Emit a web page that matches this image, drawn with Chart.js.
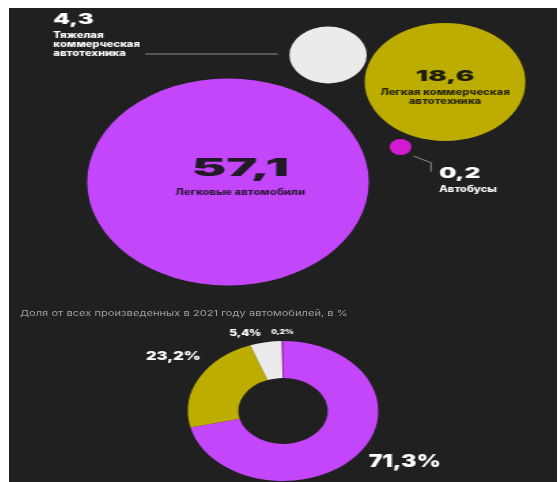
<!DOCTYPE html>
<html lang="ru">
<head>
<meta charset="utf-8">
<title>Производство автомобилей в 2021 году</title>
<script src="https://cdn.jsdelivr.net/npm/chart.js@4.4.1/dist/chart.umd.min.js"></script>
<style>
  html, body { margin: 0; background: #fff; }
  #panel { position: absolute; left: 9px; top: 8px; width: 548px; height: 474px; background: #202020; overflow: hidden; }
  /* вся инфографика растянута по горизонтали */
  #stretch { position: absolute; left: 0; top: 0; width: 403px; height: 474px; transform: scaleX(1.36); transform-origin: 0 0; }
  #bubbles { position: absolute; left: 0; top: 0; }
  #share { position: absolute; left: 0; top: 290px; }
  #caption { position: absolute; left: 8px; top: 300px; font: 400 8.2px Inter, sans-serif; color: #9d9d9d; white-space: nowrap; }
</style>
</head>
<body>
<div id="panel">
  <div id="stretch">
    <canvas id="bubbles" width="403" height="290"></canvas>
    <div id="caption">Доля от всех произведенных в 2021 году автомобилей, в %</div>
    <canvas id="share" width="403" height="184"></canvas>
  </div>
</div>
<script>
const categories = ['Легковые автомобили', 'Легкая коммерческая автотехника', 'Тяжелая коммерческая автотехника', 'Автобусы'];
const volumes = [57.1, 18.6, 4.3, 0.2];   // значения в кругах
const shares = [71.3, 23.2, 5.4, 0.2];    // доля, %
// где стоят круги (в единицах осей)
const bubbleX = [161, 320.6, 234.6, 287.9];
const bubbleY = [174, 74, 47, 139];

const colors = ['#c446fb', '#bcad00', '#ebebeb', '#d21ad2'];
const fmt = v => v.toFixed(1).replace('.', ',');
const radiusFor = v => Math.max(8, 13.7 * Math.sqrt(v));

// подписи к кругам: число (по базовой линии, с растяжкой wide), строки текста, выноски
const bubbleNotes = [
  { dx: 9, dy: -6, size: 24, wide: 1.6, align: 'center', color: '#221a26', lines: ['Легковые автомобили'], lineDy: 19, step: 9, lineColor: '#2c1838' },
  { dx: 0, dy: -1, size: 15, wide: 1.35, align: 'center', color: '#1f1d10', lines: ['Легкая коммерческая', 'автотехника'], lineDy: 14, step: 8.5, lineColor: '#2a2608' },
  { dx: -202, dy: -31, size: 14, wide: 1.25, align: 'left', color: '#ffffff', lines: ['Тяжелая', 'коммерческая', 'автотехника'], lineDy: 14, step: 9, lineColor: '#ffffff',
    leader: [[-134.6, -1], [-36.8, -1]] },
  { dx: 28.3, dy: 31, size: 14, wide: 1.28, align: 'left', color: '#ffffff', lines: ['Автобусы'], lineDy: 14, step: 9, lineColor: '#ffffff',
    leader: [[9.4, 9], [22.4, 15.7], [22.4, 24.7]] }
];

const bubbleLabels = {
  id: 'bubbleLabels',
  afterDatasetsDraw(chart) {
    const ctx = chart.ctx;
    const meta = chart.getDatasetMeta(0);
    meta.data.forEach((el, i) => {
      const n = bubbleNotes[i];
      const x = el.x + n.dx, y = el.y + n.dy;
      ctx.save();
      if (n.leader) {
        ctx.strokeStyle = '#8c8c8c';
        ctx.lineWidth = 1;
        ctx.beginPath();
        n.leader.forEach(([px, py], k) => k ? ctx.lineTo(el.x + px, el.y + py) : ctx.moveTo(el.x + px, el.y + py));
        ctx.stroke();
      }
      ctx.textAlign = n.align;
      ctx.textBaseline = 'alphabetic';
      ctx.save();
      ctx.translate(x, y);
      ctx.scale(n.wide, 1);
      ctx.fillStyle = n.color;
      ctx.font = `900 ${n.size}px Inter, sans-serif`;
      ctx.fillText(fmt(volumes[i]), 0, 0);
      ctx.restore();
      ctx.fillStyle = n.lineColor;
      ctx.font = '800 8.3px Inter, sans-serif';
      n.lines.forEach((t, k) => ctx.fillText(t, x, y + n.lineDy + k * n.step));
      ctx.restore();
    });
  }
};

new Chart(document.getElementById('bubbles'), {
  type: 'bubble',
  data: {
    labels: categories,
    datasets: [{
      data: categories.map((c, i) => ({ x: bubbleX[i], y: bubbleY[i], r: radiusFor(volumes[i]) })),
      backgroundColor: colors,
      borderWidth: 0,
      hoverRadius: 0,
      clip: false
    }]
  },
  options: {
    responsive: false,
    animation: false,
    events: [],
    layout: { padding: 0, autoPadding: false },
    scales: {
      x: { type: 'linear', display: false, min: 0, max: 403 },
      y: { type: 'linear', display: false, min: 0, max: 290, reverse: true }
    },
    plugins: { legend: { display: false }, tooltip: { enabled: false } }
  },
  plugins: [bubbleLabels]
});

// подписи процентов у сегментов кольца
const shareSizes = [17, 12, 8.5, 6];
const shareNudge = [[-3, -1], [13.6, -15], [-0.8, 4.7], [0, 5]];

const shareLabels = {
  id: 'shareLabels',
  afterDatasetsDraw(chart) {
    const ctx = chart.ctx;
    chart.getDatasetMeta(0).data.forEach((arc, i) => {
      const p = arc.getProps(['x', 'y', 'startAngle', 'endAngle', 'outerRadius']);
      const mid = (p.startAngle + p.endAngle) / 2;
      const cx = Math.cos(mid), cy = Math.sin(mid);
      const r = p.outerRadius + 14;
      const x = p.x + cx * r + shareNudge[i][0];
      const y = p.y + cy * r + shareNudge[i][1];
      ctx.save();
      ctx.textAlign = cx > 0.1 ? 'left' : cx < -0.1 ? 'right' : 'center';
      ctx.textBaseline = 'middle';
      ctx.fillStyle = '#ffffff';
      ctx.font = `900 ${shareSizes[i]}px Inter, sans-serif`;
      ctx.fillText(fmt(shares[i]) + '%', x, y);
      ctx.restore();
    });
  }
};

new Chart(document.getElementById('share'), {
  type: 'doughnut',
  data: {
    labels: categories,
    datasets: [{ data: shares, backgroundColor: colors, borderWidth: 0, hoverOffset: 0 }]
  },
  options: {
    responsive: false,
    animation: false,
    events: [],
    cutout: '47%',
    layout: { padding: { top: 43, bottom: 1, left: 0, right: 0 } },
    plugins: { legend: { display: false }, tooltip: { enabled: false } }
  },
  plugins: [shareLabels]
});
</script>
</body>
</html>
